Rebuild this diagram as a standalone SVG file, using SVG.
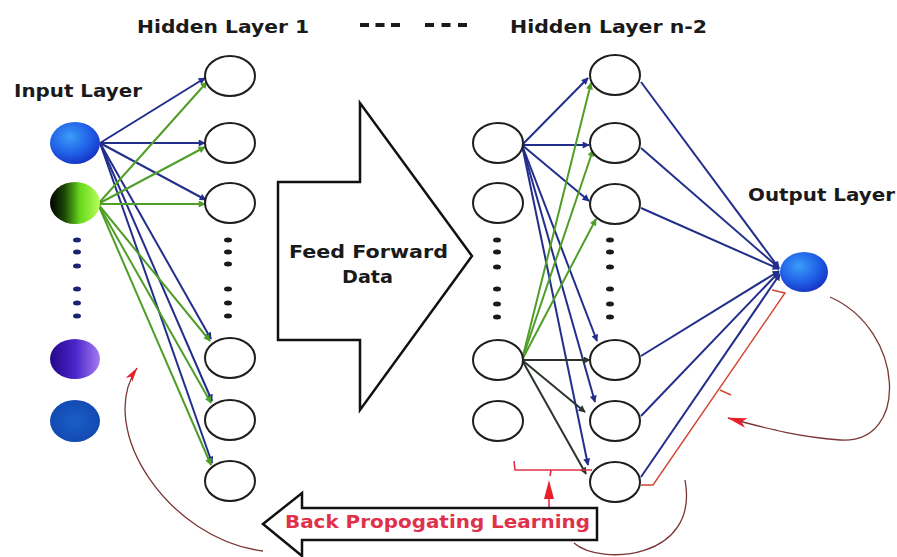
<svg xmlns="http://www.w3.org/2000/svg" width="897" height="557" viewBox="0 0 897 557">
<style>
.lbl{font-family:"DejaVu Sans","Liberation Sans",sans-serif;font-weight:bold;font-size:17px;fill:#1a1a1a}
.red{fill:#e0304a}
.hn{fill:#ffffff;stroke:#1e1e1e;stroke-width:2}
.bl{stroke:#222e8c;stroke-width:2;fill:none;marker-end:url(#mb)}
.gr{stroke:#4f9e28;stroke-width:2;fill:none;marker-end:url(#mg)}
.dk{stroke:#2a342a;stroke-width:2;fill:none;marker-end:url(#md)}
.ol{stroke:#222e8c;stroke-width:2;fill:none;marker-end:url(#mb)}
.cv{stroke:#7a3434;stroke-width:1.3;fill:none}
.rl{stroke:#d2452f;stroke-width:1.4;fill:none}
.rb{stroke:#e0304a;stroke-width:1.6;fill:none}
.dotb{fill:#1a2470}
.dotk{fill:#1a1a1a}
.big{fill:#ffffff;stroke:#111;stroke-width:2.5;stroke-linejoin:miter}
</style>
<defs>
<marker id="mb" viewBox="0 0 10 10" refX="9" refY="5" markerWidth="8" markerHeight="7" markerUnits="userSpaceOnUse" orient="auto"><path d="M0,0 L10,5 L0,10 z" fill="#222e8c"/></marker>
<marker id="mg" viewBox="0 0 10 10" refX="9" refY="5" markerWidth="8" markerHeight="7" markerUnits="userSpaceOnUse" orient="auto"><path d="M0,0 L10,5 L0,10 z" fill="#4f9e28"/></marker>
<marker id="md" viewBox="0 0 10 10" refX="9" refY="5" markerWidth="8" markerHeight="7" markerUnits="userSpaceOnUse" orient="auto"><path d="M0,0 L10,5 L0,10 z" fill="#2a342a"/></marker>
<marker id="mr" viewBox="0 0 20 10" refX="19" refY="5" markerWidth="20" markerHeight="10" markerUnits="userSpaceOnUse" orient="auto"><path d="M0,0 L20,5 L0,10 L5,5 z" fill="#e8202e"/></marker>
<marker id="mr2" viewBox="0 0 20 10" refX="19" refY="5" markerWidth="15" markerHeight="8" markerUnits="userSpaceOnUse" orient="auto"><path d="M0,0 L20,5 L0,10 L5,5 z" fill="#e8202e"/></marker>
<radialGradient id="gBlue" cx="40%" cy="35%" r="70%"><stop offset="0" stop-color="#3a9cf8"/><stop offset="0.6" stop-color="#1f5ee6"/><stop offset="1" stop-color="#1530c0"/></radialGradient>
<linearGradient id="gGreen" x1="0" y1="0" x2="1" y2="0"><stop offset="0" stop-color="#000000"/><stop offset="0.3" stop-color="#1e4a08"/><stop offset="0.6" stop-color="#66d81c"/><stop offset="1" stop-color="#b8ff5a"/></linearGradient>
<linearGradient id="gPurple" x1="0" y1="0" x2="1" y2="0"><stop offset="0" stop-color="#26088a"/><stop offset="0.5" stop-color="#4a24c8"/><stop offset="1" stop-color="#a47cf2"/></linearGradient>
<radialGradient id="gDark" cx="50%" cy="50%" r="60%"><stop offset="0" stop-color="#1a5ec8"/><stop offset="1" stop-color="#1246ae"/></radialGradient>
</defs>
<rect width="897" height="557" fill="#ffffff"/>

<g id="connectors">
<path class="bl" d="M100,143 L205,78"/>
<path class="bl" d="M100,143 L205,143"/>
<path class="bl" d="M100,143 L206,200"/>
<path class="bl" d="M100,143 L211,339"/>
<path class="bl" d="M100,143 L212,401"/>
<path class="bl" d="M100,143 L212,463"/>
<path class="gr" d="M98,204 L207,82"/>
<path class="gr" d="M98,204 L205,147"/>
<path class="gr" d="M98,204 L205,204"/>
<path class="gr" d="M98,204 L210,341"/>
<path class="gr" d="M98,204 L211,403"/>
<path class="gr" d="M98,204 L211,465"/>
<path class="bl" d="M522,145 L588,78"/>
<path class="bl" d="M522,145 L589,145"/>
<path class="bl" d="M522,145 L589,201"/>
<path class="bl" d="M522,145 L597,341"/>
<path class="bl" d="M522,145 L595,402"/>
<path class="bl" d="M522,145 L588,465"/>
<path class="gr" d="M522,360 L591,83"/>
<path class="gr" d="M522,360 L593,150"/>
<path class="gr" d="M522,360 L596,219"/>
<path class="dk" d="M522,360 L590,360"/>
<path class="dk" d="M522,360 L585,412"/>
<path class="dk" d="M522,360 L586,474"/>
<path class="ol" d="M641,82 L779,268"/>
<path class="ol" d="M641,148 L779,268"/>
<path class="ol" d="M641,208 L779,269"/>
<path class="ol" d="M641,356 L779,271"/>
<path class="ol" d="M641,416 L779,272"/>
<path class="ol" d="M641,477 L780,274"/>
<polyline class="rl" points="772,290 785,293 653,485 641,485"/>
<line class="rl" x1="720" y1="390" x2="731" y2="395"/>
<polyline class="rb" points="514,461 515,470 592,470"/>
<line class="rb" x1="551" y1="470" x2="550" y2="476"/>
<line class="rb" x1="549" y1="508" x2="549" y2="486"/>
<polygon points="549,480 544,499 554,499" fill="#e8202e"/>
<path class="cv" d="M263,551 C170,540 95,430 137,368" marker-end="url(#mr2)"/>
<path class="cv" d="M830,297 C905,330 910,445 840,440 C800,437 772,430 728,418" marker-end="url(#mr)"/>
<path class="cv" d="M574,543 C600,566 700,560 685,480"/>
</g>

<g id="feed-forward-arrow">
<polygon class="big" points="278,182 360,182 360,103 472,256 360,410 360,340 278,340"/>
<text class="lbl" x="289" y="258" textLength="159" lengthAdjust="spacingAndGlyphs">Feed Forward</text>
<text class="lbl" x="342" y="283" textLength="51" lengthAdjust="spacingAndGlyphs">Data</text>
</g>

<g id="back-propagation-arrow">
<polygon class="big" points="263,524 302,493 302,508 597,508 597,540 302,540 302,556"/>
<text class="lbl red" x="285" y="528" textLength="305" lengthAdjust="spacingAndGlyphs">Back Propogating Learning</text>
</g>

<g id="labels">
<text class="lbl" x="137" y="33" textLength="172" lengthAdjust="spacingAndGlyphs">Hidden Layer 1</text>
<text class="lbl" x="510" y="33" textLength="197" lengthAdjust="spacingAndGlyphs">Hidden Layer n-2</text>
<text class="lbl" x="14" y="97" textLength="128" lengthAdjust="spacingAndGlyphs">Input Layer</text>
<text class="lbl" x="748" y="201" textLength="147" lengthAdjust="spacingAndGlyphs">Output Layer</text>
<line x1="360" y1="25" x2="400" y2="25" stroke="#1a1a1a" stroke-width="4" stroke-dasharray="9 6.5"/>
<line x1="425" y1="25" x2="468" y2="25" stroke="#1a1a1a" stroke-width="4" stroke-dasharray="9 7.5"/>
</g>

<g id="input-layer">
<ellipse id="in-1" cx="75" cy="143" rx="25" ry="21" fill="url(#gBlue)"/>
<ellipse id="in-2" cx="75" cy="203" rx="25" ry="21" fill="url(#gGreen)"/>
<g id="in-dots" class="dotb">
<ellipse cx="77" cy="240" rx="4" ry="2.5"/><ellipse cx="77" cy="252" rx="4" ry="2.5"/><ellipse cx="77" cy="266" rx="4" ry="2.5"/>
<ellipse cx="77" cy="289" rx="4" ry="2.5"/><ellipse cx="77" cy="303" rx="4" ry="2.5"/><ellipse cx="77" cy="316" rx="4" ry="2.5"/>
</g>
<ellipse id="in-3" cx="75" cy="359" rx="25" ry="20" fill="url(#gPurple)"/>
<ellipse id="in-4" cx="75" cy="421" rx="25" ry="21" fill="url(#gDark)"/>
</g>

<g id="hidden-layer-1">
<ellipse id="h1-1" class="hn" cx="230" cy="76" rx="25" ry="20"/>
<ellipse id="h1-2" class="hn" cx="230" cy="143" rx="25" ry="20"/>
<ellipse id="h1-3" class="hn" cx="230" cy="203" rx="25" ry="20"/>
<g id="h1-dots" class="dotk">
<ellipse cx="228" cy="240" rx="4" ry="2.5"/><ellipse cx="228" cy="252" rx="4" ry="2.5"/><ellipse cx="228" cy="264" rx="4" ry="2.5"/>
<ellipse cx="228" cy="289" rx="4" ry="2.5"/><ellipse cx="228" cy="303" rx="4" ry="2.5"/><ellipse cx="228" cy="316" rx="4" ry="2.5"/>
</g>
<ellipse id="h1-4" class="hn" cx="230" cy="358" rx="25" ry="20"/>
<ellipse id="h1-5" class="hn" cx="230" cy="420" rx="25" ry="20"/>
<ellipse id="h1-6" class="hn" cx="230" cy="481" rx="25" ry="20"/>
</g>

<g id="hidden-layer-n2-left">
<ellipse id="hl-1" class="hn" cx="498" cy="143" rx="25" ry="20"/>
<ellipse id="hl-2" class="hn" cx="498" cy="203" rx="25" ry="20"/>
<g id="hl-dots" class="dotk">
<ellipse cx="497" cy="240" rx="4" ry="2.5"/><ellipse cx="497" cy="252" rx="4" ry="2.5"/><ellipse cx="497" cy="267" rx="4" ry="2.5"/>
<ellipse cx="497" cy="289" rx="4" ry="2.5"/><ellipse cx="497" cy="304" rx="4" ry="2.5"/><ellipse cx="497" cy="317" rx="4" ry="2.5"/>
</g>
<ellipse id="hl-3" class="hn" cx="498" cy="360" rx="25" ry="20"/>
<ellipse id="hl-4" class="hn" cx="498" cy="421" rx="25" ry="20"/>
</g>

<g id="hidden-layer-n2-right">
<ellipse id="hr-1" class="hn" cx="615" cy="75" rx="25" ry="20"/>
<ellipse id="hr-2" class="hn" cx="615" cy="143" rx="25" ry="20"/>
<ellipse id="hr-3" class="hn" cx="615" cy="204" rx="25" ry="20"/>
<g id="hr-dots" class="dotk">
<ellipse cx="610" cy="240" rx="4" ry="2.5"/><ellipse cx="610" cy="252" rx="4" ry="2.5"/><ellipse cx="610" cy="267" rx="4" ry="2.5"/>
<ellipse cx="610" cy="289" rx="4" ry="2.5"/><ellipse cx="610" cy="304" rx="4" ry="2.5"/><ellipse cx="610" cy="317" rx="4" ry="2.5"/>
</g>
<ellipse id="hr-4" class="hn" cx="615" cy="360" rx="25" ry="20"/>
<ellipse id="hr-5" class="hn" cx="615" cy="421" rx="25" ry="20"/>
<ellipse id="hr-6" class="hn" cx="615" cy="482" rx="25" ry="20"/>
</g>

<g id="output-layer">
<ellipse id="out-1" cx="804" cy="272" rx="24" ry="20" fill="url(#gBlue)"/>
</g>
</svg>
